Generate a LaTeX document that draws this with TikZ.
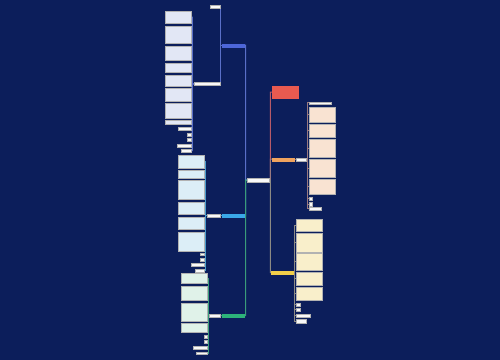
\documentclass[tikz,border=0pt]{standalone}
\usepackage{tikz}
\usetikzlibrary{backgrounds}
\definecolor{bg}{HTML}{0C1E5B}
\definecolor{cblue}{HTML}{4D66D9}
\definecolor{ccyan}{HTML}{3AA8E8}
\definecolor{cgreen}{HTML}{2DB37A}
\definecolor{cred}{HTML}{E85A50}
\definecolor{corange}{HTML}{F0A35E}
\definecolor{cyellow}{HTML}{F2CF4A}
\definecolor{lblue}{HTML}{E2E7F5}
\definecolor{lcyan}{HTML}{DCEEF7}
\definecolor{lgreen}{HTML}{E0F2E9}
\definecolor{lorange}{HTML}{F9E3D2}
\definecolor{lyellow}{HTML}{F9EFCB}
\definecolor{lnblue}{HTML}{5A6FC8}
\definecolor{lncyan}{HTML}{4A9CCB}
\definecolor{lngreen}{HTML}{3A9C7A}
\definecolor{lnred}{HTML}{B85A68}
\definecolor{lnorange}{HTML}{9A7A80}
\definecolor{lnyellow}{HTML}{8C8A84}
\newcommand\bxn[6]{%
  \pgfmathsetmacro\bw{(#4-#2)*0.5}%
  \pgfmathsetmacro\bh{(#5-#3)*0.5}%
  \pgfmathsetmacro\bcx{(#2+#4)/2}%
  \pgfmathsetmacro\bcy{(#3+#5)/2}%
  \node[#6,minimum width=\bw pt,minimum height=\bh pt] (#1) at (\bcx,\bcy) {};}
\tikzset{
  box/.style={inner sep=0pt,outer sep=0pt,draw=gray!60,line width=0.2pt},
  wbox/.style={box,fill=white!95!gray},
  conn/.style={line width=0.5pt}
}
\begin{document}
\begin{tikzpicture}[x=0.5pt,y=-0.5pt]
\useasboundingbox (0,0) rectangle (500,360);
% central
\bxn{cen}{247}{178}{269}{182.5}{wbox}
% ---------- blue branch
\bxn{b1}{222}{43.7}{244}{46.7}{box,fill=cblue,draw=cblue}
\bxn{b1a}{210}{5}{220}{8}{wbox}
\bxn{b1b}{194}{82}{220}{85.5}{wbox}
\bxn{c1}{165}{11}{191.3}{23.3}{box,fill=lblue}
\bxn{c2}{165}{26}{191.3}{43.3}{box,fill=lblue}
\bxn{c3}{165}{46}{191.3}{60}{box,fill=lblue}
\bxn{c4}{165}{62.7}{191.3}{71.7}{box,fill=lblue}
\bxn{c5}{165}{75}{191.3}{86}{box,fill=lblue}
\bxn{c6}{165}{88.3}{191.3}{101}{box,fill=lblue}
\bxn{c7}{165}{103.3}{191.3}{118.3}{box,fill=lblue}
\bxn{c8}{165}{120.5}{191.3}{124.3}{box,fill=lblue}
\bxn{s1}{178}{127}{191.3}{130}{wbox}
\bxn{s2}{187.7}{133}{191.3}{136}{wbox}
\bxn{s3}{187.7}{138}{191.3}{141}{wbox}
\bxn{s4}{177}{143.7}{191.3}{146.7}{wbox}
\bxn{s5}{181}{149}{191.3}{152}{wbox}
% ---------- cyan branch
\bxn{b2}{222}{214.3}{244}{217.3}{box,fill=ccyan,draw=ccyan}
\bxn{b2a}{207.5}{214.3}{220}{217.3}{wbox}
\bxn{d1}{178.5}{155}{204.5}{167.7}{box,fill=lcyan}
\bxn{d2}{178.5}{170}{204.5}{177.7}{box,fill=lcyan}
\bxn{d3}{178.5}{180}{204.5}{199.3}{box,fill=lcyan}
\bxn{d4}{178.5}{201.7}{204.5}{214.3}{box,fill=lcyan}
\bxn{d5}{178.5}{216.7}{204.5}{229.3}{box,fill=lcyan}
\bxn{d6}{178.5}{232.3}{204.5}{251}{box,fill=lcyan}
\bxn{t1}{200.7}{252.7}{204.5}{255.3}{wbox}
\bxn{t2}{200.7}{257.7}{204.5}{260.7}{wbox}
\bxn{t3}{191}{263.3}{204.5}{266}{wbox}
\bxn{t4}{195}{269}{204.5}{271.7}{wbox}
% ---------- green branch
\bxn{b3}{222}{314}{244}{317}{box,fill=cgreen,draw=cgreen}
\bxn{b3a}{209.5}{314.3}{220}{317.3}{wbox}
\bxn{e1}{181}{273.3}{207}{283.3}{box,fill=lgreen}
\bxn{e2}{181}{286}{207}{300}{box,fill=lgreen}
\bxn{e3}{181}{302.7}{207}{320.7}{box,fill=lgreen}
\bxn{e4}{181}{323.3}{207}{332.3}{box,fill=lgreen}
\bxn{u1}{204}{335}{207}{337.7}{wbox}
\bxn{u2}{204}{340}{207}{342.7}{wbox}
\bxn{u3}{193.3}{346}{207}{349}{wbox}
\bxn{u4}{196.7}{351.7}{207}{354.3}{wbox}
% ---------- red
\bxn{r1}{272.3}{86}{298.3}{98.3}{box,fill=cred,draw=cred}
% ---------- orange branch
\bxn{r2}{272.3}{157.7}{294}{160.7}{box,fill=corange,draw=corange}
\bxn{r2a}{296.3}{157.7}{306.7}{160.7}{wbox}
\bxn{f0}{309}{101.7}{331.7}{104}{wbox}
\bxn{f1}{309}{106.7}{335}{121.7}{box,fill=lorange}
\bxn{f2}{309}{124}{335}{136.7}{box,fill=lorange}
\bxn{f3}{309}{139.3}{335}{157.3}{box,fill=lorange}
\bxn{f4}{309}{159.3}{335}{176.7}{box,fill=lorange}
\bxn{f5}{309}{179}{335}{194.3}{box,fill=lorange}
\bxn{g1}{309}{196.7}{312.3}{200}{wbox}
\bxn{g2}{309}{202.3}{312.3}{205.7}{wbox}
\bxn{g3}{309}{207.3}{321.7}{210}{wbox}
% ---------- yellow branch
\bxn{r3}{271.7}{271}{293.3}{274}{box,fill=cyellow,draw=cyellow}
\bxn{h1}{296.5}{219.3}{322.7}{230.7}{box,fill=lyellow}
\bxn{h2}{296.5}{232.7}{322.7}{251.7}{box,fill=lyellow}
\bxn{h3}{296.5}{253.3}{322.7}{270}{box,fill=lyellow}
\bxn{h4}{296.5}{271.7}{322.7}{285}{box,fill=lyellow}
\bxn{h5}{296.5}{286.7}{322.7}{300}{box,fill=lyellow}
\bxn{k1}{296.5}{303.3}{300}{306}{wbox}
\bxn{k2}{296.5}{308.3}{300}{311}{wbox}
\bxn{k3}{296.5}{314}{310.7}{317.3}{wbox}
\bxn{k4}{296.5}{319.3}{306.7}{322.7}{wbox}
% ================= connectors (behind nodes)
\begin{pgfonlayer}{background}
\fill[bg] (0,0) rectangle (500,360);
% left trunk
\draw[conn,lnblue] (cen.west) -- (245.7,180.2) |- (b1.east);
\draw[conn,lncyan] (cen.west) -- (245.7,180.2) |- (b2.east);
\draw[conn,lngreen] (cen.west) -- (245.7,180.2) |- (b3.east);
% blue subtree
\foreach \n in {b1a,b1b} \draw[conn,lnblue] (b1.west) -- (221,45.2) |- (\n.east);
\foreach \n in {c1,c2,c3,c4,c5,c6,c7,c8,s1,s2,s3,s4,s5}
  \draw[conn,lnblue] (b1b.west) -- (192.5,83.7) |- (\n.east);
% cyan subtree
\draw[conn,lncyan] (b2.west) -- (b2a.east);
\foreach \n in {d1,d2,d3,d4,d5,d6,t1,t2,t3,t4}
  \draw[conn,lncyan] (b2a.west) -- (205.8,215.8) |- (\n.east);
% green subtree
\draw[conn,lngreen] (b3.west) -- (b3a.east);
\foreach \n in {e1,e2,e3,e4,u1,u2,u3,u4}
  \draw[conn,lngreen] (b3a.west) -- (208.3,315.8) |- (\n.east);
% right trunk
\draw[conn,lnred] (cen.east) -- (270.3,180.2) |- (r1.west);
\draw[conn,lnorange] (cen.east) -- (270.3,180.2) |- (r2.west);
\draw[conn,lnyellow] (cen.east) -- (270.3,180.2) |- (r3.west);
% orange subtree
\draw[conn,lnorange] (r2.east) -- (r2a.west);
\foreach \n in {f0,f1,f2,f3,f4,f5,g1,g2,g3}
  \draw[conn,lnorange] (r2a.east) -- (307.7,159.2) |- (\n.west);
% yellow subtree
\foreach \n in {h1,h2,h3,h4,h5,k1,k2,k3,k4}
  \draw[conn,lnyellow] (r3.east) -- (295,272.5) |- (\n.west);
\end{pgfonlayer}
\end{tikzpicture}
\end{document}
